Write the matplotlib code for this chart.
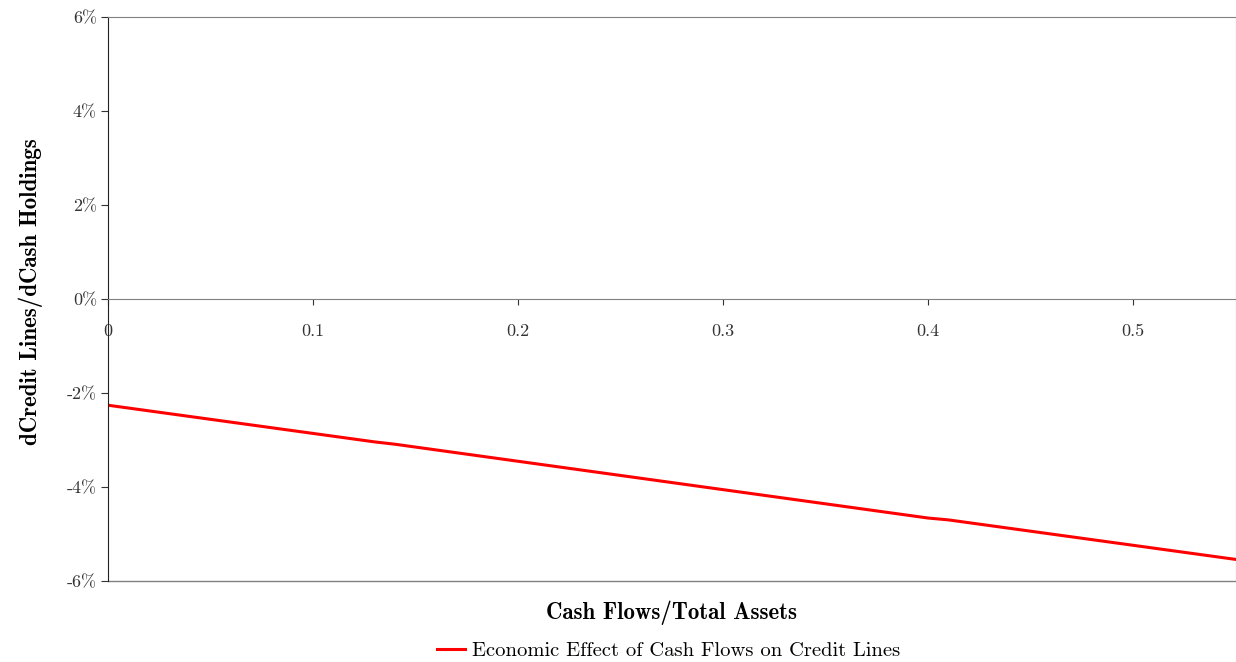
import numpy as np
import matplotlib
matplotlib.use("Agg")
import matplotlib.pyplot as plt
from matplotlib.ticker import FuncFormatter

# data
cash_flow_ratio = [0.0, 0.13, 0.14, 0.40, 0.41, 0.55]
credit_effect = [-2.26, -3.04, -3.09, -4.66, -4.70, -5.54]  # percent

x_ticks = [0, 0.1, 0.2, 0.3, 0.4, 0.5]
y_ticks = [-6, -4, -2, 0, 2, 4, 6]

plt.rcParams["font.family"] = ["cmr10", "DejaVu Serif"]
plt.rcParams["axes.unicode_minus"] = False
plt.rcParams["mathtext.fontset"] = "cm"

fig = plt.figure(figsize=(12.36, 6.62), dpi=100)
ax = fig.add_axes([108 / 1236, 1 - 581 / 662, 1 - 108 / 1236 - 0.0004, (581 - 17) / 662])

ax.plot(cash_flow_ratio, credit_effect, color="#ff0000", linewidth=2.2,
        label="Economic Effect of Cash Flows on Credit Lines")

ax.set_xlim(0, 0.55)
ax.set_ylim(-6, 6)

# frame
grey = "#808080"
for side in ["top", "right", "bottom"]:
    ax.spines[side].set_color(grey)
ax.spines["left"].set_color("#222222")
ax.spines["bottom"].set_position(("data", 0))
ax.axhline(-6, color=grey, linewidth=1.0, clip_on=False)

ax.set_xticks(x_ticks)
ax.set_yticks(y_ticks)
ax.xaxis.set_major_formatter(FuncFormatter(lambda v, p: "0" if v == 0 else "%g" % v))
ax.yaxis.set_major_formatter(FuncFormatter(lambda v, p: "%d%%" % v))
ax.tick_params(axis="x", direction="out", length=4, pad=14, labelsize=13, colors="#333333")
ax.tick_params(axis="y", direction="out", length=5, pad=3, labelsize=13, colors="#333333")

ax.set_xlabel("Cash Flows/Total Assets", fontsize=16.5, fontfamily="cmb10")
ax.xaxis.set_label_coords(0.5, -0.034)
ax.set_ylabel("dCredit Lines/dCash Holdings", fontsize=16.5, fontfamily="cmb10")
ax.yaxis.set_label_coords(-0.058, 0.513)

fig.legend(loc="center", bbox_to_anchor=(0.541, 1 - 651 / 662), frameon=False,
           fontsize=14.8, handlelength=1.36, handletextpad=0.35)

fig.savefig("out.png", dpi=100)
